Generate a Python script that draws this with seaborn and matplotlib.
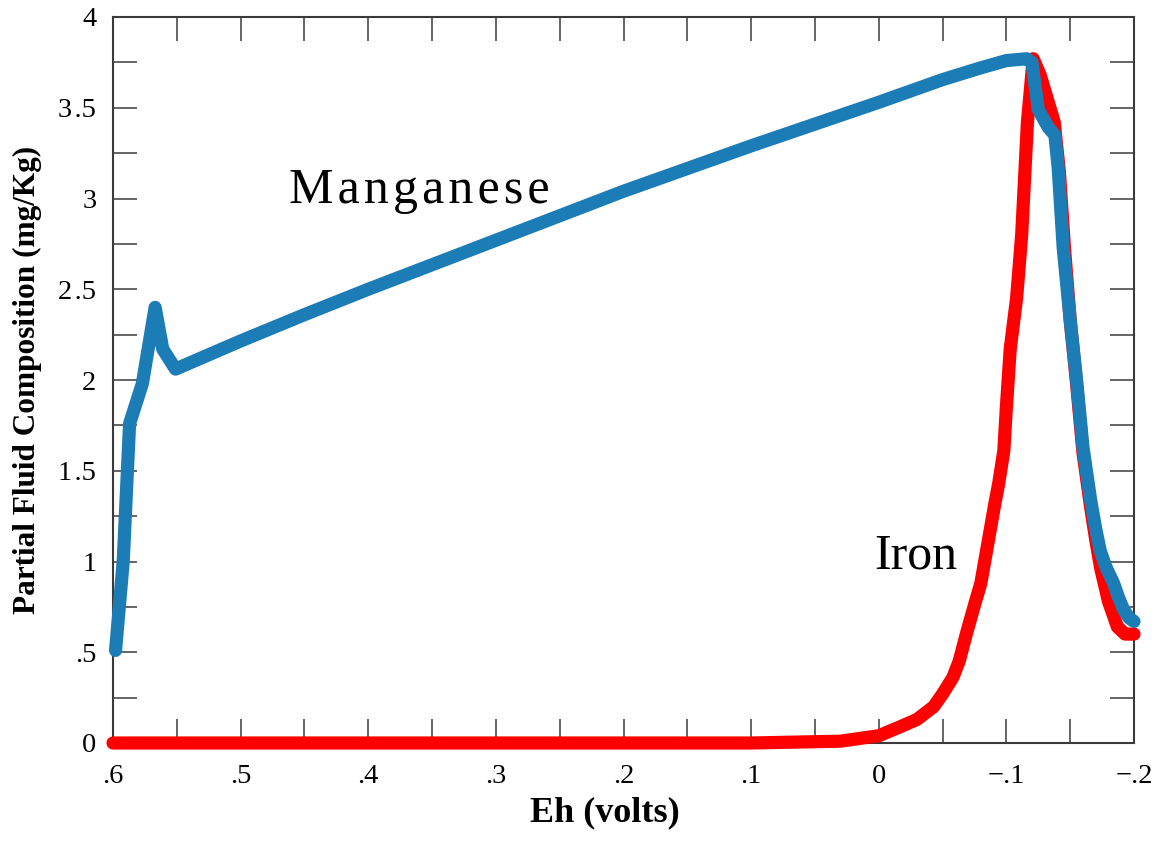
import matplotlib
matplotlib.use("Agg")
import matplotlib.pyplot as plt
from matplotlib.ticker import FixedLocator, MultipleLocator
import seaborn as sns
import pandas as pd

# Manganese partial fluid composition vs. Eh
mn_eh = [0.598, 0.592, 0.587, 0.577, 0.567, 0.561, 0.551, 0.50, 0.45, 0.40,
         0.35, 0.30, 0.25, 0.20, 0.15, 0.10, 0.05, 0.0, -0.05, -0.08,
         -0.10, -0.116, -0.120, -0.125, -0.133, -0.138, -0.1406, -0.1445,
         -0.150, -0.155, -0.160, -0.166, -0.170, -0.1735, -0.178, -0.184,
         -0.188, -0.1915, -0.196, -0.200]
mn_conc = [0.51, 1.00, 1.76, 1.98, 2.40, 2.17, 2.06, 2.215, 2.36, 2.50,
           2.635, 2.77, 2.905, 3.04, 3.165, 3.29, 3.41, 3.53, 3.655, 3.72,
           3.76, 3.77, 3.75, 3.49, 3.39, 3.35, 3.17, 2.73,
           2.33, 2.00, 1.63, 1.34, 1.18, 1.06, 0.97, 0.88,
           0.80, 0.74, 0.69, 0.67]

# Iron partial fluid composition vs. Eh
fe_eh = [0.6, 0.10, 0.03, 0.0, -0.017, -0.030, -0.043, -0.050, -0.058,
         -0.063, -0.069, -0.075, -0.080, -0.083, -0.087, -0.091, -0.094,
         -0.098, -0.100, -0.103, -0.108, -0.112, -0.1165, -0.121,
         -0.1265, -0.1375, -0.1415, -0.1455, -0.150, -0.155, -0.160,
         -0.166, -0.170, -0.174, -0.180, -0.187, -0.193, -0.200]
fe_conc = [0.0, 0.0, 0.01, 0.04, 0.09, 0.13, 0.20, 0.27, 0.36,
           0.45, 0.61, 0.76, 0.88, 1.00, 1.16, 1.32, 1.43,
           1.61, 1.85, 2.17, 2.45, 2.80, 3.42, 3.77,
           3.68, 3.42, 3.15, 2.73, 2.33, 1.98, 1.60,
           1.30, 1.12, 0.96, 0.78, 0.64, 0.60, 0.60]

HS = "\u200a"  # hair space used for the wide lettering
x_ticks = [0.6, 0.5, 0.4, 0.3, 0.2, 0.1, 0.0, -0.1, -0.2]
x_tick_labels = [".6", ".5", ".4", ".3", ".2", ".1", "0", "\u2212.1", "\u2212.2"]
y_ticks = [0, 0.5, 1, 1.5, 2, 2.5, 3, 3.5, 4]
y_tick_labels = ["0", ".5", "1", "1" + HS + ".5", "2", "2" + HS + ".5", "3",
                 "3" + HS + ".5", "4"]
mn_label = HS.join("Manganese")
fe_label = "Iron"

sns.set_theme(style="ticks")
plt.rcParams["font.family"] = ["Liberation Serif", "DejaVu Serif"]
plt.rcParams["axes.unicode_minus"] = True
plt.rcParams["text.color"] = "black"
plt.rcParams["axes.labelcolor"] = "black"

BLUE = "#1c7cb6"
RED = "#ff0000"
FRAME = "#3a3a3a"
TICK_SIZE = 20.5

fig = plt.figure(figsize=(11.58, 8.43), dpi=100)
ax = fig.add_axes([113 / 1158, 100 / 843, 1021 / 1158, 726 / 843])

fe_df = pd.DataFrame({"Eh": fe_eh, "conc": fe_conc})
mn_df = pd.DataFrame({"Eh": mn_eh, "conc": mn_conc})

line_kw = dict(linewidth=9.5, solid_capstyle="round", solid_joinstyle="round",
               clip_on=False, sort=False, legend=False)
sns.lineplot(data=fe_df, x="Eh", y="conc", color=RED, ax=ax, zorder=3, **line_kw)
sns.lineplot(data=mn_df, x="Eh", y="conc", color=BLUE, ax=ax, zorder=4, **line_kw)

ax.set_xlim(0.6, -0.2)
ax.set_ylim(0, 4)

ax.xaxis.set_major_locator(FixedLocator(x_ticks))
ax.set_xticklabels(x_tick_labels, fontsize=TICK_SIZE)
ax.xaxis.set_minor_locator(MultipleLocator(0.05))
ax.yaxis.set_major_locator(FixedLocator(y_ticks))
ax.set_yticklabels(y_tick_labels, fontsize=TICK_SIZE)
ax.yaxis.set_minor_locator(MultipleLocator(0.25))

for which in ("major", "minor"):
    ax.tick_params(axis="both", which=which, direction="in", length=17,
                   width=1.1, color=FRAME, top=True, right=True)
ax.tick_params(axis="both", which="major", labelsize=TICK_SIZE, labelcolor="black")
ax.tick_params(axis="x", which="major", pad=15)
ax.tick_params(axis="y", which="major", pad=12)

for side in ("left", "right", "top", "bottom"):
    ax.spines[side].set_visible(True)
    ax.spines[side].set_color(FRAME)
    ax.spines[side].set_linewidth(1.5)

ax.set_xlabel("Eh (volts)", fontsize=26, fontweight="bold", color="black")
ax.xaxis.set_label_coords(0.482, -0.074)
ax.set_ylabel("Partial Fluid Composition (mg/Kg)", fontsize=22.5,
              fontweight="bold", color="black")
ax.yaxis.set_label_coords(-0.0695, 0.5)

ax.text(0.360, 2.975, mn_label, fontsize=36, ha="center", va="baseline", color="black")
ax.text(-0.0293, 0.964, fe_label, fontsize=36, ha="center", va="baseline", color="black")

ax.grid(False)
fig.savefig("out.png", dpi=100, facecolor="white")
